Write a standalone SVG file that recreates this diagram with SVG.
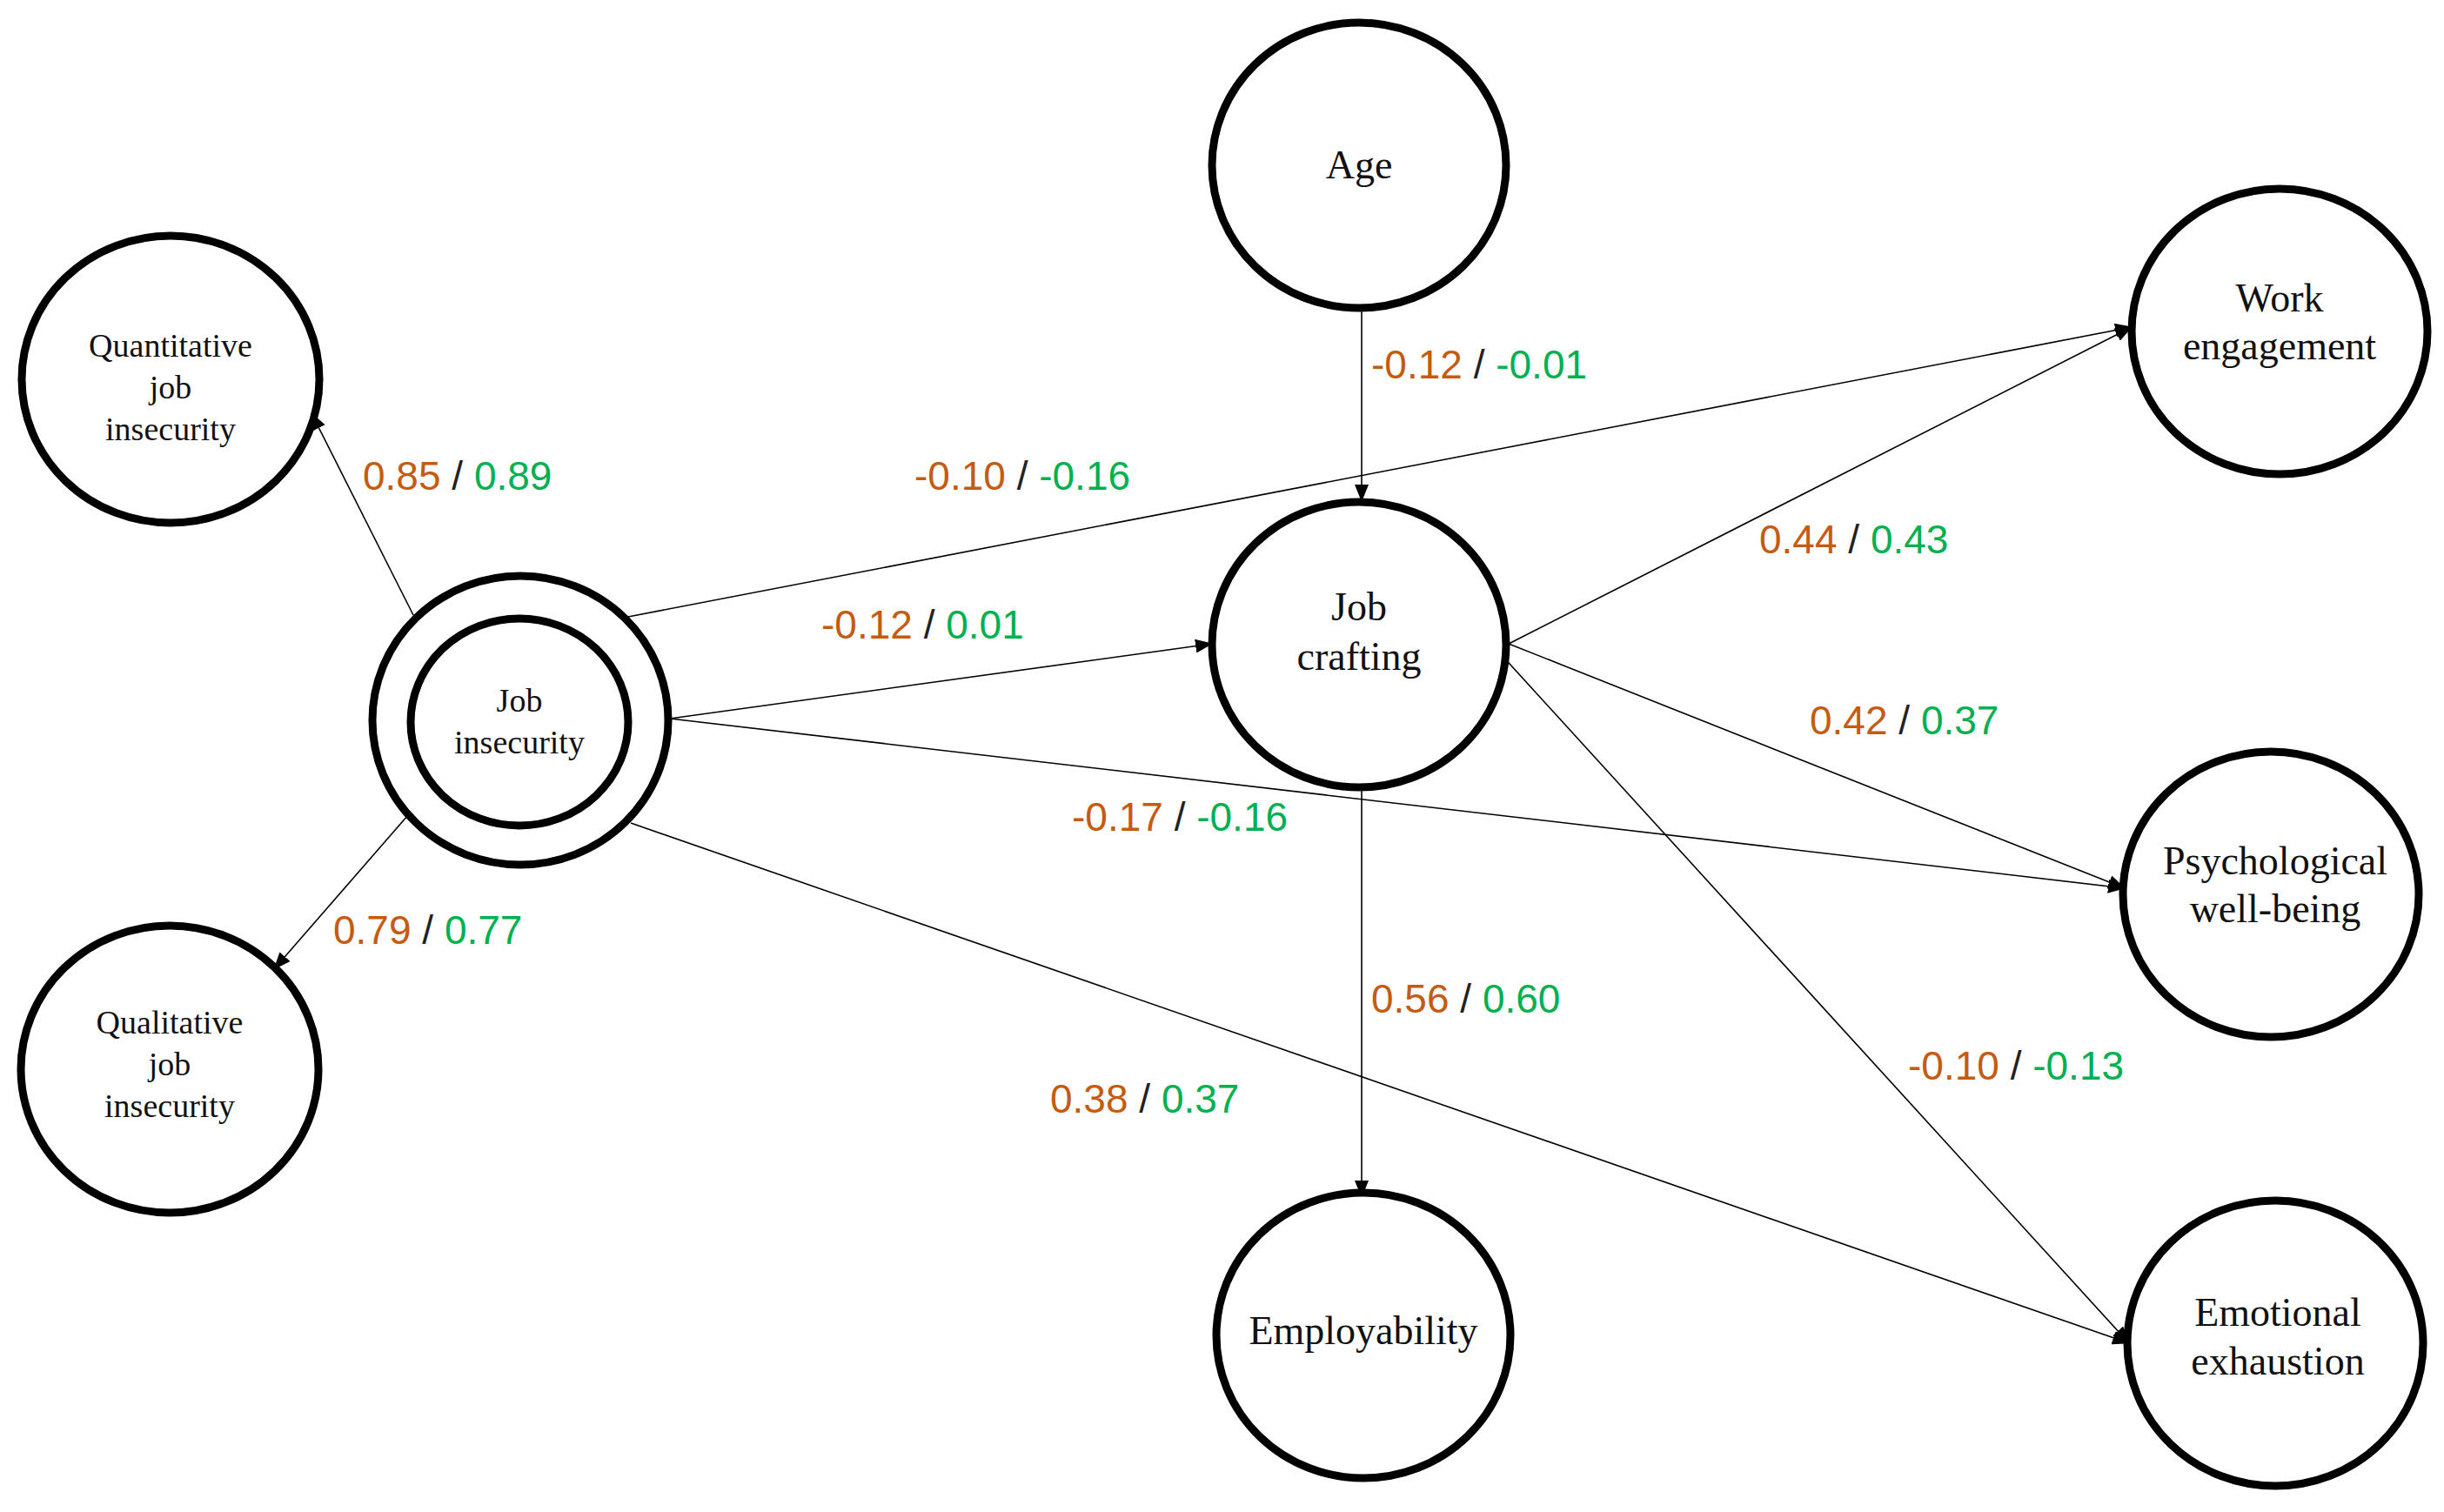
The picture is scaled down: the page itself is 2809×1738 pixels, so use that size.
<svg xmlns="http://www.w3.org/2000/svg" width="2809" height="1738" viewBox="0 0 2809 1738">
<style>
.n{fill:#fff;stroke:#000;stroke-width:9}
.t{font-family:"Liberation Serif",serif;font-size:46px;text-anchor:middle;fill:#111}
.s{font-size:38px}
.e{stroke:#000;stroke-width:1.6;fill:none;marker-end:url(#a)}
.l{font-family:"Liberation Sans",sans-serif;font-size:46px;fill:#222}
.o{fill:#c55a11}.g{fill:#00b050}
</style>
<defs><marker id="a" markerWidth="10" markerHeight="8" refX="9" refY="4" orient="auto" markerUnits="userSpaceOnUse" viewBox="0 0 10 8"><path d="M0,0L10,4L0,8z" fill="#000"/></marker>
<marker id="b" markerWidth="20" markerHeight="16" refX="19" refY="8" orient="auto" markerUnits="userSpaceOnUse" viewBox="0 0 20 16"><path d="M0,0L20,8L0,16z" fill="#000"/></marker></defs>
<g id="connectors" style="marker-end:url(#b)">
<line class="e" style="marker-end:url(#b)" x1="475" y1="707" x2="358" y2="475"/>
<line class="e" style="marker-end:url(#b)" x1="469" y1="937" x2="315" y2="1114"/>
<line class="e" style="marker-end:url(#b)" x1="722" y1="709" x2="2450" y2="376"/>
<line class="e" style="marker-end:url(#b)" x1="770" y1="826" x2="1393" y2="740"/>
<line class="e" style="marker-end:url(#b)" x1="770" y1="826" x2="2442" y2="1021"/>
<line class="e" style="marker-end:url(#b)" x1="725" y1="946" x2="2447" y2="1544"/>
<line class="e" style="marker-end:url(#b)" x1="1565" y1="356" x2="1565" y2="576"/>
<line class="e" style="marker-end:url(#b)" x1="1734" y1="740" x2="2450" y2="376"/>
<line class="e" style="marker-end:url(#b)" x1="1734" y1="740" x2="2442" y2="1021"/>
<line class="e" style="marker-end:url(#b)" x1="1725" y1="752" x2="2447" y2="1544"/>
<line class="e" style="marker-end:url(#b)" x1="1565" y1="906" x2="1565" y2="1376"/>
</g>
<g id="labels">
<text class="l" x="417" y="563"><tspan class="o">0.85</tspan> / <tspan class="g">0.89</tspan></text>
<text class="l" x="1576" y="435"><tspan class="o">-0.12</tspan> / <tspan class="g">-0.01</tspan></text>
<text class="l" x="1051" y="563"><tspan class="o">-0.10</tspan> / <tspan class="g">-0.16</tspan></text>
<text class="l" x="944" y="734"><tspan class="o">-0.12</tspan> / <tspan class="g">0.01</tspan></text>
<text class="l" x="2022" y="636"><tspan class="o">0.44</tspan> / <tspan class="g">0.43</tspan></text>
<text class="l" x="2080" y="844"><tspan class="o">0.42</tspan> / <tspan class="g">0.37</tspan></text>
<text class="l" x="1232" y="955"><tspan class="o">-0.17</tspan> / <tspan class="g">-0.16</tspan></text>
<text class="l" x="383" y="1085"><tspan class="o">0.79</tspan> / <tspan class="g">0.77</tspan></text>
<text class="l" x="1576" y="1164"><tspan class="o">0.56</tspan> / <tspan class="g">0.60</tspan></text>
<text class="l" x="1207" y="1279"><tspan class="o">0.38</tspan> / <tspan class="g">0.37</tspan></text>
<text class="l" x="2193" y="1241"><tspan class="o">-0.10</tspan> / <tspan class="g">-0.13</tspan></text>
</g>
<g id="age"><ellipse class="n" cx="1562" cy="190" rx="169" ry="164"/><text class="t" x="1562" y="205">Age</text></g>
<g id="quant"><ellipse class="n" cx="196" cy="436" rx="171" ry="165"/><text class="t s" x="196" y="410">Quantitative</text><text class="t s" x="196" y="458">job</text><text class="t s" x="196" y="506">insecurity</text></g>
<g id="qual"><ellipse class="n" cx="195" cy="1229" rx="171" ry="165"/><text class="t s" x="195" y="1188">Qualitative</text><text class="t s" x="195" y="1236">job</text><text class="t s" x="195" y="1284">insecurity</text></g>
<g id="jobinsecurity"><ellipse class="n" cx="598" cy="828" rx="170" ry="166"/><ellipse class="n" cx="597" cy="830" rx="125" ry="119"/><text class="t s" x="597" y="818">Job</text><text class="t s" x="597" y="866">insecurity</text></g>
<g id="jobcrafting"><ellipse class="n" cx="1562" cy="741" rx="169" ry="164"/><text class="t" x="1562" y="713">Job</text><text class="t" x="1562" y="770">crafting</text></g>
<g id="employability"><ellipse class="n" cx="1567" cy="1535" rx="169" ry="164"/><text class="t" x="1567" y="1545">Employability</text></g>
<g id="work"><ellipse class="n" cx="2620" cy="381" rx="170" ry="164"/><text class="t" x="2620" y="358">Work</text><text class="t" x="2620" y="413">engagement</text></g>
<g id="psych"><ellipse class="n" cx="2610" cy="1028" rx="170" ry="164"/><text class="t" x="2615" y="1005">Psychological</text><text class="t" x="2615" y="1060">well-being</text></g>
<g id="emo"><ellipse class="n" cx="2615" cy="1544" rx="170" ry="164"/><text class="t" x="2618" y="1524">Emotional</text><text class="t" x="2618" y="1580">exhaustion</text></g>
</svg>
